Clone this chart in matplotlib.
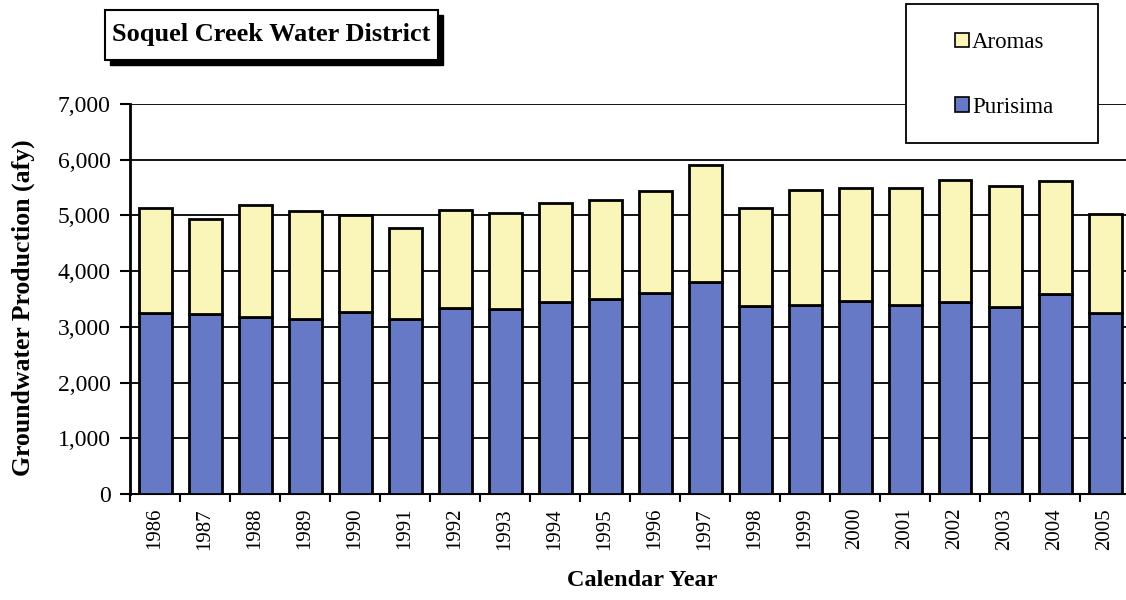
import matplotlib
matplotlib.use("Agg")
import matplotlib.pyplot as plt
from matplotlib.patches import Rectangle
import numpy as np

years = [str(y) for y in range(1986, 2006)]
total = [5130, 4940, 5180, 5080, 5000, 4770, 5090, 5050, 5220, 5280,
         5430, 5900, 5140, 5450, 5500, 5500, 5640, 5520, 5610, 5030]
purisima = [3240, 3230, 3170, 3150, 3270, 3150, 3340, 3320, 3440, 3500,
            3600, 3800, 3380, 3390, 3460, 3390, 3440, 3350, 3590, 3240]
aromas = [t - p for t, p in zip(total, purisima)]

W, H = 1126, 600
plt.rcParams['font.family'] = ['Liberation Serif', 'DejaVu Serif']
fig = plt.figure(figsize=(W / 100, H / 100), dpi=100)
fig.patch.set_facecolor('white')

def fx(px):
    return px / W

def fy(py):
    return 1 - py / H

ax = fig.add_axes([fx(130), fy(494), (1130 - 130) / W, (494 - 104) / H])
x = np.arange(len(years))
blue = '#6679C6'
yellow = '#FAF6BA'
b1 = ax.bar(x, purisima, width=0.66, color=blue, edgecolor='black', linewidth=2, zorder=3, label='Purisima')
b2 = ax.bar(x, aromas, bottom=purisima, width=0.66, color=yellow, edgecolor='black', linewidth=2, zorder=3, label='Aromas')

ax.set_xlim(-0.5, len(years) - 0.5)
ax.set_ylim(0, 7000)
ax.set_yticks(range(0, 7001, 1000))
ax.set_yticklabels([f'{v:,}' for v in range(0, 7001, 1000)], fontsize=17)
ax.yaxis.grid(True, color='black', linewidth=1.3, zorder=1)
ax.set_axisbelow(True)
ax.set_xticks(x)
ax.set_xticklabels(years, rotation=90, fontsize=15)
ax.set_xticks(np.arange(-0.5, len(years), 1), minor=True)
ax.tick_params(axis='x', which='major', length=0, pad=10)
ax.tick_params(axis='x', which='minor', length=6, width=1.5, direction='out')
ax.tick_params(axis='y', length=7, width=1.5, direction='out', pad=7)
for s in ['top', 'right']:
    ax.spines[s].set_visible(False)
ax.spines['left'].set_linewidth(2)
ax.spines['bottom'].set_linewidth(1.5)

ax.set_ylabel('Groundwater Production (afy)', fontsize=18.5, fontweight='bold')
ax.yaxis.set_label_coords(-0.095, 0.477)
ax.set_xlabel('Calendar Year', fontsize=17.5, fontweight='bold')
ax.xaxis.set_label_coords(0.512, -0.195)

# Title box with shadow
tx0, ty0, tx1, ty1 = 105, 10, 438, 60
fig.patches.append(Rectangle((fx(tx0 + 5), fy(ty1 + 5)), fx(tx1 - tx0), (ty1 - ty0) / H,
                             transform=fig.transFigure, facecolor='black', edgecolor='black', zorder=5))
fig.patches.append(Rectangle((fx(tx0), fy(ty1)), fx(tx1 - tx0), (ty1 - ty0) / H,
                             transform=fig.transFigure, facecolor='white', edgecolor='black', linewidth=1.5, zorder=6))
fig.text(fx((tx0 + tx1) / 2), fy((ty0 + ty1) / 2), 'Soquel Creek Water District', ha='center', va='center',
         fontsize=19, fontweight='bold', zorder=7)

# Legend box
lx0, ly0, lx1, ly1 = 906, 4, 1098, 143
fig.patches.append(Rectangle((fx(lx0), fy(ly1)), fx(lx1 - lx0), (ly1 - ly0) / H,
                             transform=fig.transFigure, facecolor='white', edgecolor='black', linewidth=1.3, zorder=5))
leg = fig.legend([b2, b1], ['Aromas', 'Purisima'], loc='center', bbox_to_anchor=(fx(1004), fy(75)),
                 frameon=False, fontsize=16.5, labelspacing=1.9, handlelength=0.6, handleheight=0.6, handletextpad=0.15)
leg.set_zorder(8)
for h in leg.legend_handles:
    h.set_linewidth(1.2)

fig.savefig('out.png', dpi=100)
